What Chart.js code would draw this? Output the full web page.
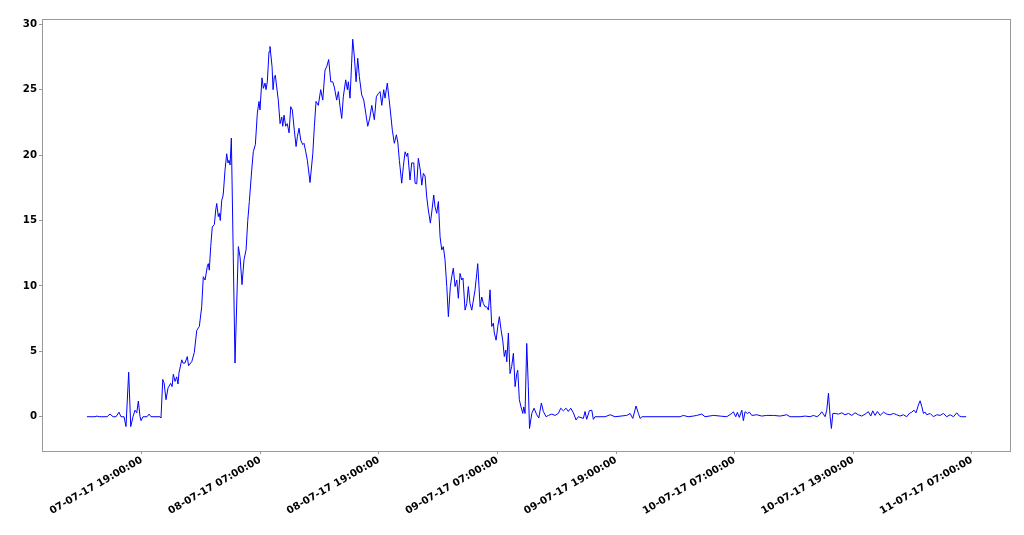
<!DOCTYPE html>
<html>
<head>
<meta charset="utf-8">
<script src="https://cdn.jsdelivr.net/npm/chart.js@4.4.0/dist/chart.umd.min.js"></script>
<style>
  html, body { margin: 0; padding: 0; background: #fff; }
  #wrap { width: 1024px; height: 535px; }
</style>
</head>
<body>
<div id="wrap"><canvas id="chart"></canvas></div>
<script>
// hours counted from 07-07-17 00:00:00
const hours = [
  13.46, 14.27, 14.48, 14.7, 15.49, 15.79, 16.1, 16.4, 16.7, 16.9,
  17.21, 17.41, 17.68, 17.89, 18.12, 18.32, 18.5, 18.66, 18.83, 18.93,
  19.13, 19.54, 19.74, 19.94, 20.85, 20.95, 21.13, 21.26, 21.46, 21.66,
  21.93, 22.07, 22.2, 22.37, 22.54, 22.67, 22.77, 23.05, 23.18, 23.38,
  23.61, 23.74, 24.06, 24.32, 24.57, 24.83, 25.07, 25.23, 25.41, 25.64,
  25.74, 25.84, 25.98, 26.14, 26.35, 26.49, 26.59, 26.75, 26.85, 26.95,
  27.1, 27.2, 27.26, 27.43, 27.6, 27.73, 27.83, 27.94, 28.07, 28.44,
  28.78, 28.95, 29.15, 29.35, 29.56, 29.73, 29.89, 30.13, 30.29, 30.5,
  30.7, 30.87, 30.97, 31.17, 31.31, 31.48, 31.58, 31.71, 31.88, 31.98,
  32.19, 32.29, 32.42, 32.52, 32.66, 32.82, 33.0, 33.17, 33.27, 33.4,
  33.57, 33.73, 33.91, 34.08, 34.24, 34.44, 34.62, 34.75, 34.92, 35.09,
  35.29, 35.42, 35.6, 35.76, 36.03, 36.31, 36.47, 36.64, 36.87, 37.11,
  37.32, 37.55, 37.72, 37.92, 38.13, 38.33, 38.49, 38.73, 38.9, 39.07,
  39.24, 39.4, 39.64, 39.81, 39.91, 40.08, 40.35, 40.52, 40.69, 40.86,
  41.02, 41.26, 41.47, 41.67, 41.87, 42.07, 42.28, 42.54, 42.74, 42.94,
  43.12, 43.29, 43.49, 43.62, 43.85, 44.13, 44.36, 44.56, 44.77, 44.91,
  45.07, 45.31, 45.47, 45.65, 45.82, 45.92, 46.15, 46.32, 46.53, 46.66,
  46.83, 46.99, 47.19, 47.34, 47.5, 47.67, 47.84, 48.0, 48.21, 48.35,
  48.55, 48.68, 48.85, 49.02, 49.19, 49.36, 49.52, 49.69, 49.87, 50.03,
  50.23, 50.37, 50.53, 50.71, 50.88, 51.04, 51.21, 51.38, 51.51, 51.72,
  51.89, 52.05, 52.22, 52.4, 52.73, 52.9, 53.0, 53.24, 53.41, 53.57,
  53.74, 53.91, 54.08, 54.25, 54.42, 54.58, 54.68, 54.86, 55.03, 55.19,
  55.36, 55.53, 55.69, 55.84, 55.94, 56.1, 56.27, 56.44, 56.61, 56.78,
  56.95, 57.05, 57.21, 57.38, 57.56, 57.66, 57.79, 57.96, 58.12, 58.24,
  58.47, 58.7, 58.97, 59.18, 59.44, 59.64, 59.92, 60.15, 60.49, 60.83,
  61.16, 61.4, 61.67, 61.94, 62.17, 62.41, 62.68, 62.95, 63.18, 63.69,
  63.86, 64.03, 64.3, 64.54, 64.7, 64.87, 65.89, 66.4, 66.9, 68.08,
  68.42, 68.69, 69.02, 69.26, 69.43, 69.63, 73.48, 73.81, 74.29, 74.82,
  75.16, 75.67, 76.0, 76.85, 77.53, 78.2, 78.71, 78.87, 79.11, 79.27,
  79.47, 79.72, 79.88, 80.05, 80.29, 80.49, 80.73, 81.24, 81.74, 82.25,
  82.92, 83.6, 84.27, 84.61, 85.62, 86.13, 86.63, 86.97, 87.32, 87.57,
  87.81, 87.98, 88.15, 88.32, 88.49, 88.66, 88.79, 88.93, 89.16, 89.5,
  89.84, 90.17, 90.51, 90.85, 91.18, 91.52, 91.86, 92.2, 92.53, 92.77,
  92.97, 93.21, 93.44, 93.72, 94.06, 94.39, 94.73, 95.06, 95.4, 95.74,
  96.07, 96.41, 96.67, 96.92, 97.15, 97.35, 97.59, 97.76, 97.94, 98.1,
  98.27, 98.44, 98.78, 99.11, 99.45, 99.79, 100.12, 100.46, 100.8, 101.14,
  101.47, 101.73, 101.98, 102.42
];

const values = [
  0, 0, 0.05, 0, 0, 0.2, 0, 0, 0.35, 0,
  0, -0.75, 3.4, -0.75, 0, 0.5, 0.3, 1.2, 0, -0.3,
  0, 0, 0.2, 0, 0, -0.1, 2.85, 2.6, 1.3, 2.2,
  2.55, 2.3, 3.25, 2.7, 3.05, 2.5, 3.35, 4.35, 4.1, 4.1,
  4.6, 3.9, 4.2, 4.9, 6.6, 6.9, 8.4, 10.7, 10.45, 11.5,
  11.7, 11.2, 13.0, 14.5, 14.7, 15.8, 16.3, 15.3, 15.55, 15.0,
  16.55, 16.8, 17.1, 18.85, 20.1, 19.4, 19.6, 19.25, 21.3, 4.1,
  13.0, 12.2, 10.1, 12.0, 12.75, 15.0, 16.45, 18.85, 20.25, 20.8,
  23.2, 24.1, 23.45, 25.9, 25.1, 25.5, 25.0, 25.6, 27.9, 28.3,
  26.75, 25.0, 26.0, 26.1, 25.2, 24.2, 22.4, 22.9, 22.2, 23.05,
  22.2, 22.4, 21.7, 23.7, 23.45, 21.9, 20.65, 21.4, 22.05, 21.15,
  20.8, 20.9, 20.25, 19.6, 17.9, 20.1, 22.2, 24.1, 23.8, 25.0,
  24.2, 26.5, 26.75, 27.3, 25.6, 25.6, 25.2, 24.2, 24.85, 23.7,
  22.8, 24.45, 25.75, 25.0, 25.6, 24.35, 28.85, 27.5, 25.6, 27.4,
  26.0, 24.6, 24.2, 23.2, 22.2, 22.8, 23.8, 22.7, 24.45, 24.7,
  24.85, 23.8, 25.0, 24.35, 25.5, 23.6, 21.9, 20.9, 21.55, 21.0,
  19.6, 17.85, 19.1, 20.25, 19.9, 20.15, 18.1, 19.4, 19.4, 17.85,
  17.8, 19.75, 18.85, 17.7, 18.6, 18.4, 16.8, 15.8, 14.8, 15.65,
  16.95, 16.05, 15.55, 16.45, 13.75, 12.75, 13.0, 12.0, 9.95, 7.65,
  9.95, 10.7, 11.35, 9.95, 10.45, 9.05, 10.95, 10.45, 10.6, 8.15,
  8.65, 9.95, 8.65, 8.15, 9.7, 10.95, 11.7, 8.4, 9.15, 8.65,
  8.4, 8.4, 8.15, 9.7, 6.9, 7.15, 6.4, 5.85, 6.9, 7.65,
  6.65, 5.85, 4.6, 5.1, 4.2, 6.4, 3.3, 3.85, 4.85, 2.3,
  3.3, 3.55, 1.3, 0.75, 0.25, 0.75, 0.25, 5.6, 2.3, -0.9,
  0.25, 0.65, 0.15, -0.1, 1.05, 0.4, 0, 0.1, 0.2, 0.1,
  0.25, 0.65, 0.45, 0.65, 0.4, 0.65, 0.3, -0.25, 0, -0.13,
  0.4, -0.2, 0.46, 0.5, -0.2, 0, 0, 0.15, 0, 0.1,
  0.25, -0.13, 0.82, 0.25, -0.13, 0, 0, 0.1, 0, 0.05,
  0.1, 0.2, 0, 0.1, 0.05, 0, 0.25, 0.38, 0, 0.33,
  -0.05, 0.5, -0.3, 0.38, 0.25, 0.35, 0.1, 0.15, 0.05, 0.1,
  0.1, 0.05, 0.15, 0, 0, 0.05, 0, 0.1, 0, 0.13,
  0.38, 0.2, 0, 0.5, 1.8, 0, -0.9, 0.25, 0.25, 0.2,
  0.3, 0.15, 0.25, 0.1, 0.3, 0.15, 0.05, 0.2, 0.38, 0.05,
  0.45, 0.1, 0.4, 0.1, 0.35, 0.2, 0.15, 0.25, 0.15, 0.05,
  0.15, 0, 0.25, 0.35, 0.5, 0.3, 0.89, 1.22, 0.76, 0.25,
  0.35, 0.15, 0.25, 0, 0.15, 0.1, 0.25, 0, 0.15, 0,
  0.3, 0.05, 0, 0
];

const xTicks = [19, 31, 43, 55, 67, 79, 91, 103];
const yTicks = [0, 5, 10, 15, 20, 25, 30];

function fmtHour(h) {
  const day = 7 + Math.floor(h / 24);
  const hh = Math.round(h % 24);
  const pad = n => String(n).padStart(2, '0');
  return pad(day) + '-07-17 ' + pad(hh) + ':00:00';
}

// draw the full box around the plot area
const frame = {
  id: 'frame',
  afterDraw(chart) {
    const a = chart.chartArea;
    const ctx = chart.ctx;
    ctx.save();
    ctx.strokeStyle = '#999';
    ctx.lineWidth = 1;
    ctx.strokeRect(Math.round(a.left) + 0.5, Math.round(a.top) + 0.5,
                   Math.round(a.right - a.left), Math.round(a.bottom - a.top));
    ctx.restore();
  }
};

const tickFont = { family: 'DejaVu Sans', size: 10.2, weight: 'bold' };

new Chart(document.getElementById('chart'), {
  type: 'line',
  data: {
    datasets: [{
      data: hours.map((h, i) => ({ x: h, y: values[i] })),
      borderColor: '#0000ff',
      borderWidth: 1,
      pointRadius: 0,
      tension: 0,
      fill: false
    }]
  },
  options: {
    responsive: true,
    maintainAspectRatio: false,
    animation: false,
    layout: { padding: { top: 19, right: 14, left: 0, bottom: 0 } },
    plugins: { legend: { display: false }, tooltip: { enabled: false } },
    scales: {
      x: {
        type: 'linear',
        min: 8.91,
        max: 106.86,
        afterBuildTicks: s => { s.ticks = xTicks.map(v => ({ value: v })); },
        afterFit: s => { s.height = 84; },
        grid: { drawOnChartArea: false, drawTicks: true, tickLength: 3, color: '#999' },
        border: { color: '#999' },
        ticks: {
          autoSkip: false,
          minRotation: 30,
          maxRotation: 30,
          padding: 0,
          color: '#000',
          font: tickFont,
          callback: v => fmtHour(v)
        }
      },
      y: {
        min: -2.62,
        max: 30.4,
        afterBuildTicks: s => { s.ticks = yTicks.map(v => ({ value: v })); },
        afterFit: s => { s.width = 42; },
        grid: { drawOnChartArea: false, drawTicks: true, tickLength: 3, color: '#999' },
        border: { color: '#999' },
        ticks: { padding: 2, color: '#000', font: tickFont }
      }
    }
  },
  plugins: [frame]
});
</script>
</body>
</html>
